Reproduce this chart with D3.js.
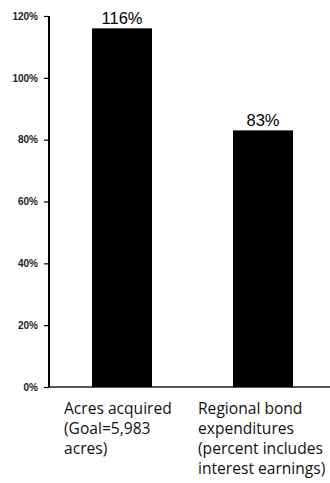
<!DOCTYPE html>
<html>
<head>
<meta charset="utf-8">
<script src="https://cdn.jsdelivr.net/npm/d3@7"></script>
<style>
  html, body { margin: 0; padding: 0; background: #fff; }
  svg { display: block; }
</style>
</head>
<body>
<script>
// Progress toward bond-measure goals
const categories = ["acres", "bond"];
const values = [116, 83];
const valueLabels = ["116%", "83%"];
const categoryLines = [
  ["Acres acquired", "(Goal=5,983", "acres)"],
  ["Regional bond", "expenditures", "(percent includes", "interest earnings)"]
];
const tickValues = [0, 20, 40, 60, 80, 100, 120];

const W = 330, H = 483;
const svg = d3.select("body").append("svg").attr("width", W).attr("height", H);

const y = d3.scaleLinear().domain([0, 120]).range([387, 16]);
const x = d3.scaleOrdinal().domain(categories).range([92, 233]);
const barW = 60;
const axisX = 49;

// baseline
svg.append("line")
  .attr("x1", axisX).attr("x2", W)
  .attr("y1", y(0)).attr("y2", y(0))
  .attr("stroke", "#555").attr("stroke-width", 2);

// bars
svg.selectAll("rect.bar").data(values).join("rect")
  .attr("class", "bar")
  .attr("x", (d, i) => x(categories[i]))
  .attr("y", d => y(d))
  .attr("width", barW)
  .attr("height", d => y(0) - y(d))
  .attr("fill", "#000");

// value labels
svg.selectAll("text.val").data(values).join("text")
  .attr("class", "val")
  .attr("x", (d, i) => x(categories[i]) + barW / 2)
  .attr("y", d => y(d) - 4)
  .attr("text-anchor", "middle")
  .attr("font-family", "Liberation Sans, Arial, sans-serif")
  .attr("font-size", 16.5)
  .attr("fill", "#000")
  .text((d, i) => valueLabels[i]);

// y axis
const axis = d3.axisLeft(y)
  .tickValues(tickValues)
  .tickSize(5)
  .tickPadding(6)
  .tickFormat(d => d + "%");
const g = svg.append("g").attr("transform", `translate(${axisX},0)`).call(axis);
g.select(".domain").attr("stroke", "#000").attr("stroke-width", 2)
  .attr("d", `M0,${y(120)}V${y(0)}`);
g.selectAll(".tick line").attr("stroke", "#000").attr("stroke-width", 1.2);
g.selectAll(".tick text")
  .attr("font-family", "Liberation Sans, Arial, sans-serif")
  .attr("font-weight", "bold")
  .attr("font-size", 10)
  .attr("fill", "#1c1c2a");

// category labels
categoryLines.forEach((lines, i) => {
  const t = svg.append("text")
    .attr("font-family", "Open Sans, Noto Sans, sans-serif")
    .attr("font-size", 15.6)
    .attr("fill", "#111");
  lines.forEach((ln, j) => {
    t.append("tspan")
      .attr("x", [64, 198][i])
      .attr("y", 414 + j * 20)
      .text(ln);
  });
});
</script>
</body>
</html>
